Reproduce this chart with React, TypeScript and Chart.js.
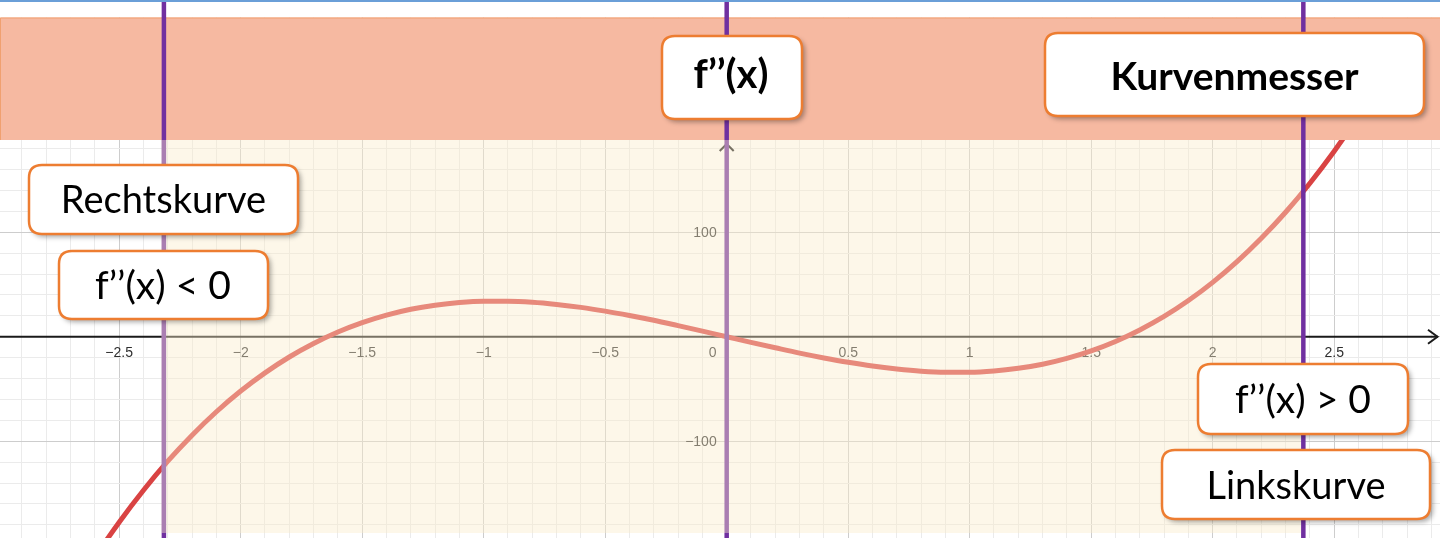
import React, { useEffect, useRef } from "react";
import { Chart, registerables } from "chart.js";

Chart.register(...registerables);

// ---- data ----
const curveX = [
  -2.7, -2.6, -2.5, -2.4, -2.3, -2.2, -2.1, -2.0, -1.9, -1.8, -1.7, -1.6, -1.5, -1.4,
  -1.3, -1.2, -1.1, -1.0, -0.9, -0.8, -0.7, -0.6, -0.5, -0.4, -0.3, -0.2, -0.1, 0,
  0.1, 0.2, 0.3, 0.4, 0.5, 0.6, 0.7, 0.8, 0.9, 1.0, 1.1, 1.2, 1.3, 1.4, 1.5, 1.6,
  1.7, 1.8, 1.9, 2.0, 2.1, 2.2, 2.3, 2.4, 2.5, 2.6, 2.7,
];
const curveY = [
  -247.9, -211.1, -177.5, -146.9, -119.1, -94.2, -71.8, -52.0, -34.6, -19.4, -6.5, 4.5, 13.5, 20.7,
  26.3, 30.2, 32.8, 34.0, 34.0, 33.0, 30.9, 28.1, 24.5, 20.3, 15.7, 10.6, 5.4, 0,
  -5.4, -10.6, -15.7, -20.3, -24.5, -28.1, -30.9, -33.0, -34.0, -34.0, -32.8, -30.2, -26.3, -20.7, -13.5, -4.5,
  6.5, 19.4, 34.6, 52.0, 71.8, 94.2, 119.1, 146.9, 177.5, 211.1, 247.9,
];
const xTickValues = [-2.5, -2, -1.5, -1, -0.5, 0, 0.5, 1, 1.5, 2, 2.5];
const xTickLabels = ["−2.5", "−2", "−1.5", "−1", "−0.5", "0", "0.5", "1", "1.5", "2", "2.5"];
const yTickValues = [100, -100];
const yTickLabels = ["100", "−100"];
const markerXs = [-2.316, 0, 2.373];
const calloutTexts = ["f’’(x)", "Kurvenmesser", "Rechtskurve", "f’’(x) < 0", "f’’(x) > 0", "Linkskurve"];
const calloutBold = [true, true, false, false, false, false];

// ---- layout ----
const W = 1440;
const H = 538;
const X_MIN = -2.9905;
const X_MAX = 2.9354;
const Y_MIN = -192.6;
const Y_MAX = 322.2;
const X_STEP = 0.1;
const Y_STEP = 20;

const calloutLayout = [
  { x: 662, y: 36, w: 140, h: 83, cx: 731, base: 88, size: 40 },
  { x: 1045, y: 33, w: 379, h: 83, cx: 1234.5, base: 90, size: 39 },
  { x: 29, y: 165, w: 269, h: 69, cx: 163.5, base: 213, size: 38 },
  { x: 59, y: 251, w: 209, h: 68, cx: 163, base: 299, size: 39 },
  { x: 1198, y: 364, w: 210, h: 70, cx: 1303, base: 413, size: 39 },
  { x: 1162, y: 450, w: 268, h: 69, cx: 1296, base: 499, size: 38 },
];

function roundRect(ctx: CanvasRenderingContext2D, x: number, y: number, w: number, h: number, r: number) {
  ctx.beginPath();
  ctx.moveTo(x + r, y);
  ctx.lineTo(x + w - r, y);
  ctx.quadraticCurveTo(x + w, y, x + w, y + r);
  ctx.lineTo(x + w, y + h - r);
  ctx.quadraticCurveTo(x + w, y + h, x + w - r, y + h);
  ctx.lineTo(x + r, y + h);
  ctx.quadraticCurveTo(x, y + h, x, y + h - r);
  ctx.lineTo(x, y + r);
  ctx.quadraticCurveTo(x, y, x + r, y);
  ctx.closePath();
}

const decorPlugin = {
  id: "decor",
  beforeDatasetsDraw(chart: any) {
    const ctx: CanvasRenderingContext2D = chart.ctx;
    const xs = chart.scales.x;
    const ys = chart.scales.y;
    const ax = xs.getPixelForValue(0);
    const ay = ys.getPixelForValue(0);
    ctx.save();
    // axes
    ctx.strokeStyle = "#1a1a1a";
    ctx.lineWidth = 2;
    ctx.beginPath();
    ctx.moveTo(0, ay);
    ctx.lineTo(W - 2, ay);
    ctx.stroke();
    ctx.beginPath();
    ctx.moveTo(W - 12, ay - 7);
    ctx.lineTo(W - 2.5, ay);
    ctx.lineTo(W - 12, ay + 7);
    ctx.stroke();
    const yTop = 144;
    ctx.beginPath();
    ctx.moveTo(ax, H);
    ctx.lineTo(ax, yTop);
    ctx.stroke();
    ctx.beginPath();
    ctx.moveTo(ax - 7, yTop + 7);
    ctx.lineTo(ax, yTop);
    ctx.lineTo(ax + 7, yTop + 7);
    ctx.stroke();
    // tick labels
    ctx.fillStyle = "#2e2e2e";
    ctx.font = "14px 'Liberation Sans', Arial, sans-serif";
    ctx.textAlign = "center";
    ctx.textBaseline = "alphabetic";
    xTickValues.forEach((v, i) => {
      const px = xs.getPixelForValue(v) + (v === 0 ? -14 : 0);
      ctx.fillText(xTickLabels[i], px, ay + 20.5);
    });
    ctx.textAlign = "right";
    yTickValues.forEach((v, i) => {
      ctx.fillText(yTickLabels[i], ax - 10, ys.getPixelForValue(v) + 5);
    });
    ctx.restore();
  },
  afterDatasetsDraw(chart: any) {
    const ctx: CanvasRenderingContext2D = chart.ctx;
    const xs = chart.scales.x;
    const mx = markerXs.map((v) => xs.getPixelForValue(v));
    const bandTop = 17.5;
    const bandBottom = 140;
    const overlayBottom = 533;
    ctx.save();
    // purple lines (full height)
    ctx.strokeStyle = "#7030a0";
    ctx.lineWidth = 4.5;
    mx.forEach((px) => {
      ctx.beginPath();
      ctx.moveTo(px, 0);
      ctx.lineTo(px, H);
      ctx.stroke();
    });
    // translucent yellow overlay
    ctx.fillStyle = "rgba(250, 237, 202, 0.42)";
    ctx.fillRect(mx[0] - 2.5, bandBottom, mx[2] - 2.3 - (mx[0] - 2.5), overlayBottom - bandBottom);
    // white top strip
    ctx.fillStyle = "#ffffff";
    ctx.fillRect(0, 0, W, bandTop);
    // orange band
    ctx.fillStyle = "#f6b9a1";
    ctx.fillRect(0, bandTop, W, bandBottom - bandTop);
    ctx.strokeStyle = "#f0a070";
    ctx.lineWidth = 1;
    ctx.beginPath();
    ctx.moveTo(W, bandTop + 0.5);
    ctx.lineTo(0.5, bandTop + 0.5);
    ctx.lineTo(0.5, bandBottom);
    ctx.stroke();
    // purple lines above band
    ctx.strokeStyle = "#7030a0";
    ctx.lineWidth = 4.5;
    mx.forEach((px) => {
      ctx.beginPath();
      ctx.moveTo(px, 0);
      ctx.lineTo(px, bandBottom);
      ctx.stroke();
    });
    // top blue line
    ctx.fillStyle = "#6a9fd8";
    ctx.fillRect(0, 0, W, 2);
    // callouts
    calloutTexts.forEach((t, i) => {
      const L = calloutLayout[i];
      ctx.save();
      ctx.shadowColor = "rgba(0,0,0,0.35)";
      ctx.shadowBlur = 5;
      ctx.shadowOffsetX = 3;
      ctx.shadowOffsetY = 3;
      roundRect(ctx, L.x, L.y, L.w, L.h, 13);
      ctx.fillStyle = "#ffffff";
      ctx.fill();
      ctx.restore();
      roundRect(ctx, L.x, L.y, L.w, L.h, 13);
      ctx.strokeStyle = "#ed7d31";
      ctx.lineWidth = 2.5;
      ctx.stroke();
      ctx.fillStyle = "#000000";
      ctx.font = `${calloutBold[i] ? "bold " : ""}${L.size}px Lato, 'Open Sans', sans-serif`;
      ctx.textAlign = "center";
      ctx.textBaseline = "alphabetic";
      ctx.fillText(t, L.cx, L.base);
    });
    ctx.restore();
  },
};

function buildTicks(min: number, max: number, step: number) {
  const out: { value: number }[] = [];
  const start = Math.ceil(min / step);
  const end = Math.floor(max / step);
  for (let k = start; k <= end; k++) out.push({ value: Math.round(k * step * 1000) / 1000 });
  return out;
}

function isMajor(v: number, every: number) {
  const r = v / every;
  return Math.abs(r - Math.round(r)) < 1e-6;
}

export default function App() {
  const canvasRef = useRef<HTMLCanvasElement | null>(null);
  useEffect(() => {
    document.body.style.margin = "0";
    const canvas = canvasRef.current;
    if (!canvas) return;
    const chart = new Chart(canvas, {
      type: "scatter",
      data: {
        datasets: [
          {
            data: curveX.map((x, i) => ({ x, y: curveY[i] })),
            showLine: true,
            borderColor: "#d94343",
            borderWidth: 5,
            pointRadius: 0,
            cubicInterpolationMode: "monotone",
            fill: false,
          } as any,
        ],
      },
      options: {
        animation: false,
        responsive: false,
        maintainAspectRatio: false,
        devicePixelRatio: 1,
        layout: { padding: 0 },
        plugins: {
          legend: { display: false },
          tooltip: { enabled: false },
          title: { display: false },
        },
        scales: {
          x: {
            type: "linear",
            min: X_MIN,
            max: X_MAX,
            afterBuildTicks: (scale: any) => {
              scale.ticks = buildTicks(X_MIN, X_MAX, X_STEP);
            },
            ticks: { display: false },
            grid: {
              drawTicks: false,
              lineWidth: 1,
              color: (c: any) => (isMajor(c.tick.value, 0.5) ? "#cdcdcd" : "#ebebeb"),
            },
            border: { display: false },
          },
          y: {
            type: "linear",
            min: Y_MIN,
            max: Y_MAX,
            afterBuildTicks: (scale: any) => {
              scale.ticks = buildTicks(Y_MIN, Y_MAX, Y_STEP);
            },
            ticks: { display: false },
            grid: {
              drawTicks: false,
              lineWidth: 1,
              color: (c: any) => (isMajor(c.tick.value, 100) ? "#cdcdcd" : "#ebebeb"),
            },
            border: { display: false },
          },
        },
      } as any,
      plugins: [decorPlugin],
    });
    return () => chart.destroy();
  }, []);
  return (
    <div style={{ position: "fixed", left: 0, top: 0, width: W, height: H, background: "#ffffff" }}>
      <canvas ref={canvasRef} width={W} height={H} style={{ width: W, height: H, display: "block" }} />
    </div>
  );
}
